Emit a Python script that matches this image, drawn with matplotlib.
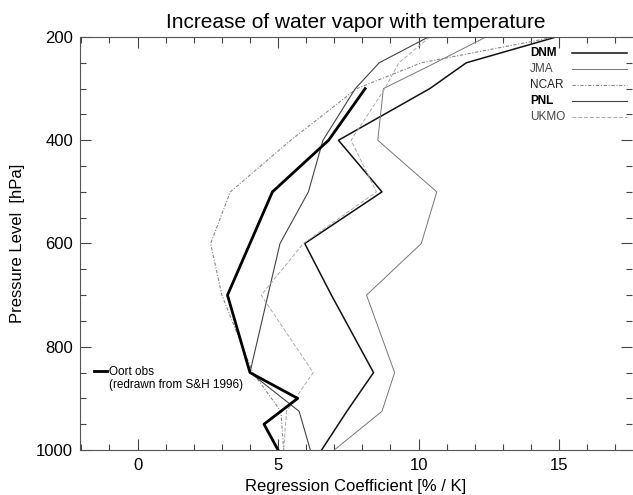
import matplotlib
matplotlib.use('Agg')
import matplotlib.pyplot as plt
from matplotlib.ticker import MultipleLocator

plt.rcParams['font.family'] = ['Liberation Sans', 'DejaVu Sans']

# pressure levels [hPa] of the model profiles
levels = [200, 250, 300, 400, 500, 600, 700, 850, 925, 1000]

# regression coefficient [% / K]
dnm = [14.9, 11.7, 10.4, 7.15, 8.7, 5.95, 6.9, 8.4, 7.45, 6.55]
jma = [12.4, 10.6, 8.75, 8.55, 10.65, 10.1, 8.15, 9.15, 8.7, 7.0]
ncar = [14.85, 10.1, 7.8, 5.45, 3.3, 2.6, 3.0, 4.1, 5.1, 5.2]
pnl = [10.35, 8.6, 7.75, 6.6, 6.08, 5.07, 4.64, 4.0, 5.75, 6.15]
ukmo = [10.4, 9.3, 8.8, 7.6, 8.5, 5.9, 4.4, 6.25, 5.3, 5.2]

# Oort observations (redrawn from S&H 1996)
oort_levels = [300, 400, 500, 700, 850, 900, 950, 1000]
oort = [8.1, 6.8, 4.8, 3.2, 4.0, 5.7, 4.5, 5.0]

names = ['DNM', 'JMA', 'NCAR', 'PNL', 'UKMO']
model_data = [dnm, jma, ncar, pnl, ukmo]
colors = ['#111111', '#777777', '#888888', '#444444', '#aaaaaa']
widths = [1.1, 0.7, 0.8, 0.8, 0.7]
styles = ['-', '-', (0, (3, 1.5, 1, 1.5)), '-', (0, (4, 2))]
label_weight = ['bold', 'normal', 'normal', 'bold', 'normal']
label_color = ['black', '#444444', '#222222', 'black', '#444444']

W, H = 633, 495
fig = plt.figure(figsize=(W / 100, H / 100), dpi=100)
ax = fig.add_axes([80 / W, 45 / H, 552 / W, 413 / H])

handles = []
for vals, c, lw, ls in zip(model_data, colors, widths, styles):
    h, = ax.plot(vals, levels, color=c, lw=lw, ls=ls)
    handles.append(h)

oort_line, = ax.plot(oort, oort_levels, color='black', lw=2.0)

ax.set_xlim(-2.05, 17.6)
ax.set_ylim(1000, 200)
ax.xaxis.set_major_locator(MultipleLocator(5))
ax.xaxis.set_minor_locator(MultipleLocator(1))
ax.yaxis.set_major_locator(MultipleLocator(200))
ax.yaxis.set_minor_locator(MultipleLocator(50))
ax.tick_params(which='both', direction='in', top=True, right=True,
               width=0.8, color='#444444')
ax.tick_params(which='major', length=8, labelsize=12)
ax.tick_params(which='minor', length=4)
ax.tick_params(axis='x', pad=6)
ax.tick_params(axis='y', pad=5)
for side in ['left', 'bottom', 'top']:
    ax.spines[side].set_color('#555555')
    ax.spines[side].set_linewidth(0.8)
ax.spines['right'].set_visible(False)

ax.set_title('Increase of water vapor with temperature', fontsize=15, pad=6.3)
ax.set_xlabel('Regression Coefficient [% / K]', fontsize=12, labelpad=4)
ax.set_ylabel('Pressure Level  [hPa]', fontsize=12, labelpad=8)

# model legend: samples on the right, names left-aligned in front of them
leg = ax.legend(handles, [' '] * len(names), loc='upper left',
                bbox_to_anchor=(572 / W, 1 - 48 / H), bbox_transform=fig.transFigure,
                frameon=False, fontsize=8.5, handlelength=4.66, handletextpad=0,
                borderpad=0, borderaxespad=0, labelspacing=0.35)
ax.add_artist(leg)

leg2 = ax.legend([oort_line], ['Oort obs'], loc='upper left',
                 bbox_to_anchor=(94 / W, 1 - 366 / H), bbox_transform=fig.transFigure,
                 frameon=False, fontsize=8.5, handlelength=1.1, handletextpad=0.15,
                 borderpad=0, borderaxespad=0)

fig.canvas.draw()
renderer = fig.canvas.get_renderer()
for h, name, fw, tc in zip(leg.get_lines(), names, label_weight, label_color):
    bb = h.get_window_extent(renderer)
    yc = (bb.y0 + bb.y1) / 2
    fig.text(530 / W, yc / fig.bbox.height, name, va='center', ha='left',
             fontsize=8.5, fontweight=fw, color=tc)

tb = leg2.get_texts()[0].get_window_extent(renderer)
fig.text(tb.x0 / fig.bbox.width, (tb.y0 - 1) / fig.bbox.height,
         '(redrawn from S&H 1996)', va='top', ha='left', fontsize=8.5)

fig.savefig('out.png', dpi=100)
